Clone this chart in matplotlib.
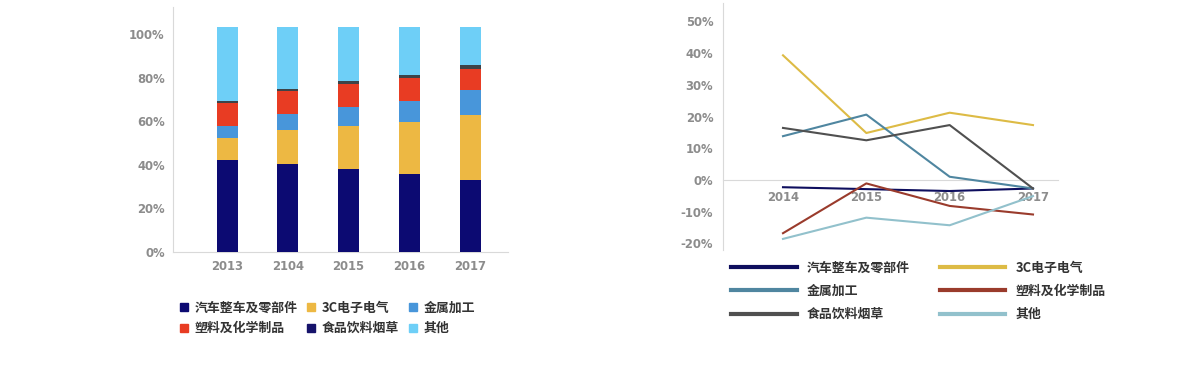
import matplotlib
matplotlib.use('Agg')
import numpy as np
from matplotlib import pyplot as plt
from matplotlib.lines import Line2D
from matplotlib.ticker import FuncFormatter

plt.rcParams['font.family'] = ['Noto Sans CJK SC', 'DejaVu Sans']

# left chart: share of each sector per year (%)
years_share = ['2013', '2104', '2015', '2016', '2017']
sectors = ['汽车整车及零部件', '3C电子电气', '金属加工', '塑料及化学制品', '食品饮料烟草', '其他']
auto = [42.1, 40.3, 38.0, 35.6, 32.9]
elec = [10.4, 15.7, 19.9, 24.1, 30.1]
metal = [5.2, 7.4, 8.8, 9.7, 11.1]
plastic = [10.5, 10.4, 10.3, 10.4, 9.9]
food = [1.2, 1.2, 1.4, 1.2, 1.6]
other = [34.0, 28.4, 25.0, 22.4, 17.8]

# right chart: growth per year (%)
years_growth = ['2014', '2015', '2016', '2017']
g_auto = [-2.3, -2.9, -3.5, -2.7]
g_elec = [39.3, 14.8, 21.2, 17.3]
g_metal = [13.8, 20.6, 1.0, -2.7]
g_plastic = [-16.8, -1.1, -8.2, -10.9]
g_food = [16.4, 12.5, 17.3, -2.7]
g_other = [-18.6, -11.9, -14.3, -5.1]

bar_colors = ['#0C0A72', '#EDB843', '#4896DA', '#E83C23', '#3D4348', '#6ECFF7']
legend_sq = ['#0C0A72', '#EDB843', '#4896DA', '#E83C23', '#16136B', '#6ECFF7']
line_colors = ['#0E0E5E', '#DDBB45', '#4F86A0', '#9A3B2C', '#505050', '#92C1CC']
tick_color = '#8C8C8C'
spine_color = '#D9D9D9'
W, H = 1200, 376

fig = plt.figure(figsize=(12, 3.76), dpi=100)

# ---- stacked bars
ax1 = fig.add_axes([173 / W, 1 - 252 / H, 335 / W, 245 / H])
x = np.arange(len(years_share))
bottom = np.zeros(len(x))
for vals, c, name in zip([auto, elec, metal, plastic, food, other], bar_colors, sectors):
    ax1.bar(x, vals, width=0.346, bottom=bottom, color=c, label=name, zorder=3)
    bottom += np.array(vals)

ax1.set_xlim(-0.889, 4.625)
ax1.set_ylim(0, 112.4)
ax1.set_yticks(range(0, 101, 20))
ax1.yaxis.set_major_formatter(FuncFormatter(lambda v, p: f'{v:.0f}%'))
ax1.set_xticks(x)
ax1.set_xticklabels(years_share)
for s in ['top', 'right']:
    ax1.spines[s].set_visible(False)
for s in ['left', 'bottom']:
    ax1.spines[s].set_color(spine_color)
ax1.tick_params(length=0, colors=tick_color, labelsize=8.4)
ax1.tick_params(axis='y', pad=6)
ax1.tick_params(axis='x', pad=6)
for lab in ax1.get_xticklabels() + ax1.get_yticklabels():
    lab.set_fontweight('bold')
    lab.set_family('DejaVu Sans')

order = [0, 3, 1, 4, 2, 5]
h1 = [Line2D([], [], ls='', marker='s', markersize=5.5, color=legend_sq[i]) for i in order]
fig.legend(h1, [sectors[i] for i in order], ncol=3, loc='upper left',
           bbox_to_anchor=(168 / W, 1 - 289 / H), frameon=False,
           prop={'size': 9.3, 'weight': 'bold'}, labelcolor='#333333',
           handlelength=0.6, handletextpad=0.55, columnspacing=0.75, labelspacing=0.5)

# ---- growth lines
ax2 = fig.add_axes([723 / W, 1 - 250 / H, 335 / W, 247 / H])
xg = np.arange(len(years_growth))
series = [g_auto, g_elec, g_metal, g_plastic, g_food, g_other]
for vals, c, name in zip(series, line_colors, sectors):
    ax2.plot(xg, vals, color=c, lw=1.5, label=name, zorder=3)

ax2.set_xlim(-0.72, 3.3)
ax2.set_ylim(-22.1, 55.8)
ax2.set_yticks(range(-20, 51, 10))
ax2.yaxis.set_major_formatter(FuncFormatter(lambda v, p: f'{v:.0f}%'))
ax2.set_xticks(xg)
ax2.set_xticklabels(years_growth)
ax2.spines['bottom'].set_position(('data', 0))
for s in ['top', 'right']:
    ax2.spines[s].set_visible(False)
for s in ['left', 'bottom']:
    ax2.spines[s].set_color(spine_color)
ax2.set_axisbelow(True)
ax2.tick_params(length=0, colors=tick_color, labelsize=8.4)
ax2.tick_params(axis='y', pad=7)
ax2.tick_params(axis='x', pad=8)
for lab in ax2.get_xticklabels() + ax2.get_yticklabels():
    lab.set_fontweight('bold')
    lab.set_family('DejaVu Sans')

order2 = [0, 2, 4, 1, 3, 5]
h2 = [Line2D([], [], color=line_colors[i], lw=3) for i in order2]
fig.legend(h2, [sectors[i] for i in order2], ncol=2, loc='upper left',
           bbox_to_anchor=(719 / W, 1 - 249 / H), frameon=False,
           prop={'size': 9.3, 'weight': 'bold'}, labelcolor='#333333',
           handlelength=5.1, handletextpad=0.8, columnspacing=2.3, labelspacing=0.72)

fig.savefig('out.png', dpi=100)
